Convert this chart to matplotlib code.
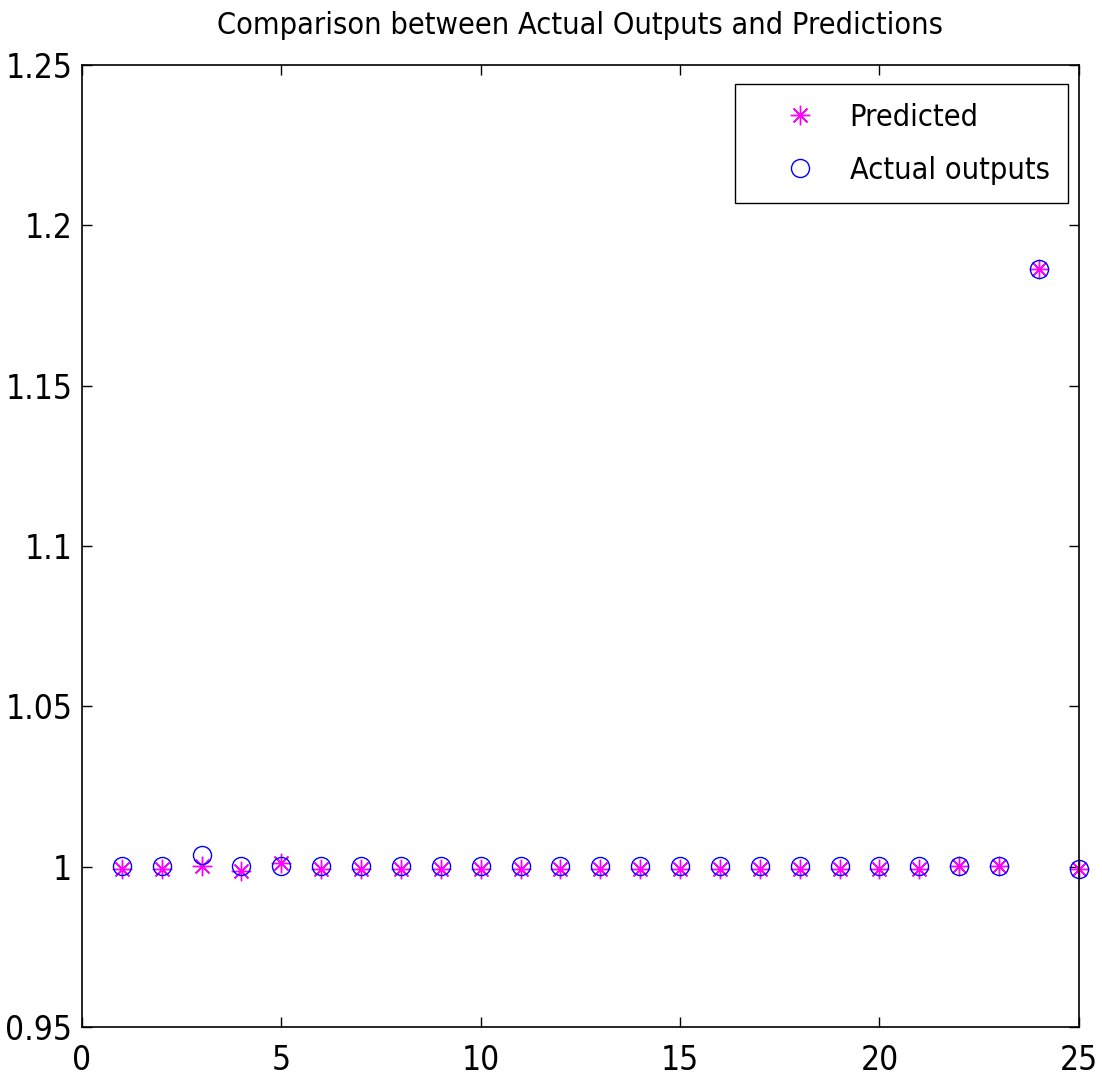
import numpy as np
import matplotlib
matplotlib.use("Agg")
import matplotlib.pyplot as plt

plt.rcParams['font.family'] = ['DejaVu Sans']
plt.rcParams['font.stretch'] = 'condensed'

# sample index and values
sample = list(range(1, 26))
actual = [1.0003, 1.0003, 1.0037, 1.0003, 1.0001, 1.0003, 1.0003, 1.0003, 1.0003, 1.0003,
          1.0003, 1.0003, 1.0003, 1.0003, 1.0003, 1.0003, 1.0003, 1.0003, 1.0003, 1.0003,
          1.0003, 1.0003, 1.0003, 1.1864, 0.9994]
predicted = [0.9994, 0.9994, 1.0003, 0.9985, 1.0012, 0.9994, 0.9994, 0.9994, 0.9994, 0.9994,
             0.9994, 0.9994, 0.9994, 0.9994, 0.9994, 0.9994, 0.9994, 0.9994, 0.9994, 0.9994,
             0.9994, 1.0001, 1.0001, 1.1864, 0.9994]

fig = plt.figure(figsize=(11.02, 10.78), dpi=100)
ax = fig.add_axes([0.0744, 0.0473, 0.9046, 0.8924])

ax.plot(sample, predicted, linestyle="none", marker=(8, 2, 0), markersize=14,
        markeredgewidth=1.0, color="magenta", label="Predicted", clip_on=False)
ax.plot(sample, actual, linestyle="none", marker="o", markersize=13,
        markerfacecolor="none", markeredgecolor="blue", markeredgewidth=1.0,
        label="Actual outputs", clip_on=False)

ax.set_xlim(0, 25)
ax.set_ylim(0.95, 1.25)
ax.set_xticks(range(0, 26, 5))
ax.set_yticks(np.arange(0.95, 1.2501, 0.05))
ax.set_yticklabels(["0.95", "1", "1.05", "1.1", "1.15", "1.2", "1.25"])
ax.tick_params(direction="in", top=True, right=True, length=7, width=1,
               labelsize=24)
ax.tick_params(axis="x", pad=12)
ax.tick_params(axis="y", pad=7)
for s in ax.spines.values():
    s.set_linewidth(1.2)

ax.set_title("Comparison between Actual Outputs and Predictions", fontsize=22, pad=22)

leg = ax.legend(loc="upper right", bbox_to_anchor=(0.989, 0.980), borderaxespad=0,
                fontsize=22, fancybox=False, framealpha=1, edgecolor="black",
                borderpad=0.6, handletextpad=0.1, labelspacing=0.8, handlelength=3.05)
leg.get_frame().set_linewidth(1.0)

plt.savefig("out.png", dpi=100)
